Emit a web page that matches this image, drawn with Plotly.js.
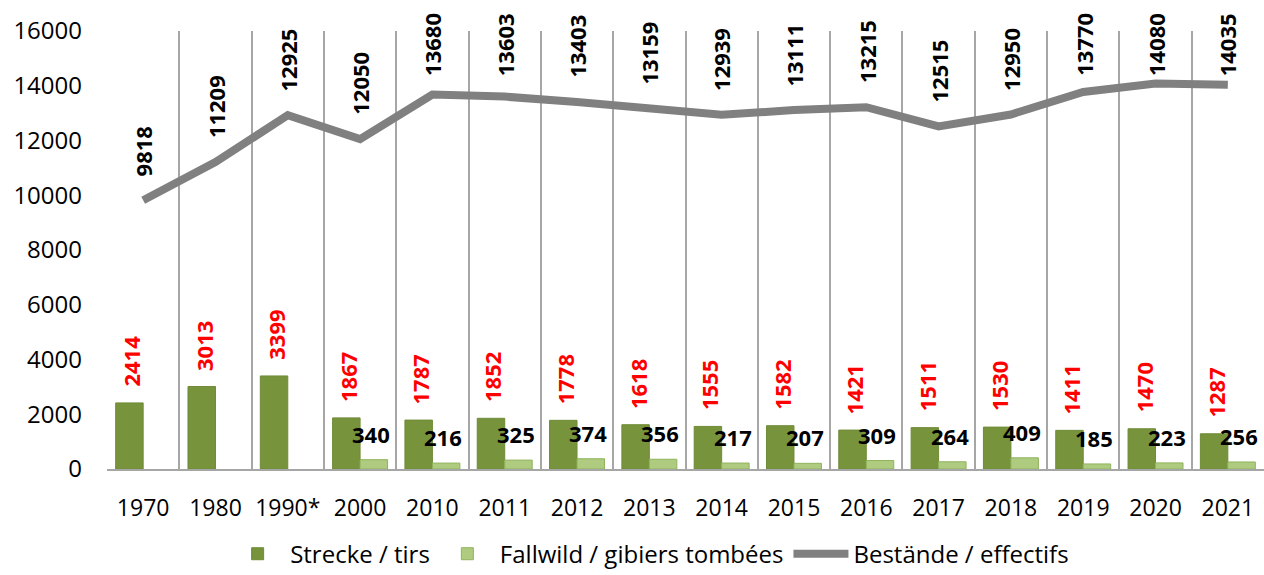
<!DOCTYPE html>
<html>
<head>
<meta charset="utf-8">
<script src="https://cdn.plot.ly/plotly-3.0.1.min.js"></script>
<style>html,body{margin:0;padding:0;background:#fff}#chart{width:1264px;height:575px}</style>
</head>
<body>
<div id="chart"></div>
<script>
const years = ['1970','1980','1990*','2000','2010','2011','2012','2013','2014','2015','2016','2017','2018','2019','2020','2021'];
const strecke = [2414,3013,3399,1867,1787,1852,1778,1618,1555,1582,1421,1511,1530,1411,1470,1287];
const fallwild = [null,null,null,340,216,325,374,356,217,207,309,264,409,185,223,256];
const bestaende = [9818,11209,12925,12050,13680,13603,13403,13159,12939,13111,13215,12515,12950,13770,14080,14035];
const names = ['Strecke / tirs','Fallwild / gibiers tombées','Bestände / effectifs'];

const FONT = 'Open Sans, Liberation Sans, sans-serif';
const YMAX = 16000;
const M = {l:107, r:0, t:31, b:106};
const H = 575, PLOTH = H - M.t - M.b;
const LABSIZE = 22;

const traces = [
  {type:'bar', name:names[0], x:years, y:strecke,
   marker:{color:'#77933C', line:{color:'#6F8B37', width:1}}, hoverinfo:'skip'},
  {type:'bar', name:names[1], x:years, y:fallwild,
   marker:{color:'#AECB80', line:{color:'#8FB35A', width:1}}, hoverinfo:'skip'},
  {type:'scatter', mode:'lines', name:names[2], x:years, y:bestaende,
   line:{color:'#808080', width:8}, hoverinfo:'skip'}
];

// label offset above the line, clamped so the label stays inside the chart (as in Excel)
function lineLabelShift(v, txt){
  const pv = M.t + PLOTH * (1 - v / YMAX);
  const len = txt.length * 0.6 * LABSIZE + 4;
  return Math.min(22, pv - 8 - len);
}

const annotations = [];
years.forEach((yr,i)=>{
  annotations.push({x:i, y:strecke[i], xref:'x', yref:'y', text:String(strecke[i]),
    showarrow:false, textangle:-90, yanchor:'bottom', xanchor:'center', xshift:-12, yshift:14,
    font:{family:FONT, size:LABSIZE, color:'#FF0000', weight:'bold'}});
  if(fallwild[i]!==null){
    annotations.push({x:i, y:fallwild[i], xref:'x', yref:'y', text:String(fallwild[i]),
      showarrow:false, yanchor:'bottom', xanchor:'center', xshift:11, yshift:9,
      font:{family:FONT, size:LABSIZE, color:'#000000', weight:'bold'}});
  }
  const t = String(bestaende[i]);
  annotations.push({x:i, y:bestaende[i], xref:'x', yref:'y', text:t,
    showarrow:false, textangle:-90, yanchor:'bottom', xanchor:'center', yshift:lineLabelShift(bestaende[i], t),
    font:{family:FONT, size:LABSIZE, color:'#000000', weight:'bold'}});
});

const layout = {
  width:1264, height:H,
  margin:{l:M.l, r:M.r, t:M.t, b:M.b, autoexpand:false},
  paper_bgcolor:'#ffffff', plot_bgcolor:'#ffffff',
  font:{family:FONT, size:23, color:'#000000'},
  barmode:'group', bargap:0.24, bargroupgap:0,
  showlegend:true,
  legend:{orientation:'h', x:0.469, xanchor:'center', y:-0.143, yanchor:'top',
    font:{family:FONT, size:24, color:'#000000'}, traceorder:'normal', itemwidth:55},
  xaxis:{type:'category', range:[-0.5,15.5], autorange:false, tickson:'boundaries', showgrid:true, gridcolor:'#A6A6A6', gridwidth:2,
    showline:true, linecolor:'#A6A6A6', linewidth:2, ticks:'', ticklabelstandoff:17, tickangle:0,
    tickfont:{family:FONT, size:23, color:'#000000'}, fixedrange:true},
  yaxis:{range:[0,YMAX], autorange:false, dtick:2000, tickformat:'d', showgrid:false, zeroline:false, showline:false,
    ticks:'', ticklabelstandoff:24, tickfont:{family:FONT, size:24, color:'#000000'}, fixedrange:true},
  annotations:annotations
};

Plotly.newPlot('chart', traces, layout, {displayModeBar:false, staticPlot:true});
</script>
</body>
</html>
